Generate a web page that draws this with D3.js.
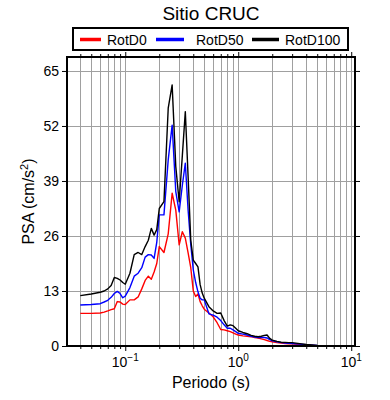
<!DOCTYPE html>
<html><head><meta charset="utf-8">
<script src="https://cdn.jsdelivr.net/npm/d3@7"></script>
<style>body{margin:0;background:#fff}svg{display:block;font-family:"Liberation Sans",Arial,Helvetica,sans-serif}</style>
</head><body><svg id="c" width="390" height="400"></svg>
<script>
const title = "Sitio CRUC";
const seriesNames = ["RotD0", "RotD50", "RotD100"];
const seriesColors = ["#ff0000", "#0000ff", "#000000"];
const yTicks = [0, 13, 26, 39, 52, 65];
const xMajor = [0.1, 1, 10];
const xMajorExp = ["\u22121", "0", "1"];
const periods = [0.04,0.05,0.06,0.065,0.07,0.075,0.08,0.085,0.09,0.095,0.1,0.11,0.12,0.13,0.14,0.15,0.16,0.17,0.18,0.19,0.2,0.22,0.24,0.26,0.28,0.3,0.32,0.34,0.36,0.38,0.4,0.42,0.44,0.46,0.48,0.5,0.55,0.6,0.65,0.7,0.75,0.8,0.85,0.9,0.95,1.0,1.1,1.2,1.3,1.4,1.5,1.6,1.7,1.8,1.9,2.0,2.2,2.4,2.6,2.8,3.0,3.5,4.0,5.0,6.0,7.5,10];
const rotD0 = [7.7,7.7,7.8,8.0,8.3,8.6,8.8,10.5,10.4,9.9,9.8,10.9,10.9,11.6,13.5,15.5,16.5,15.8,17.5,19.5,23.5,22.1,26.5,36.1,32.1,23.9,27,25.5,22,18.5,13,11.7,12.3,10.5,9.5,8.7,7.8,6.9,5.5,3.9,3.8,3.6,3.4,3.1,2.8,2.6,2.4,2.3,2.2,2.0,1.9,1.7,1.5,1.3,1.1,1.0,0.8,0.7,0.6,0.5,0.5,0.35,0.25,0.1,0.07,0.05,0.03];
const rotD50 = [9.7,9.8,10.0,10.4,10.8,11.5,12.4,12.9,12.4,11.4,11.8,13.8,16.5,17.2,18.5,21.0,21.6,21.5,20.7,24.5,31,31,44,52.2,36.5,31.7,38,43.2,32.1,24,18,15,12.8,11.3,10.9,10.9,7.6,7.3,6.8,6.0,5.0,4.2,4.2,3.8,3.4,3.0,2.8,2.6,2.3,2.1,2.0,2.0,2.0,1.9,1.5,1.2,1.0,0.8,0.7,0.65,0.6,0.45,0.3,0.12,0.08,0.05,0.04];
const rotD100 = [11.9,12.3,12.7,13.0,13.5,14.3,16.2,16.0,15.6,15.0,14.6,17.2,21.6,22.1,21.6,23.5,25.0,27.8,26.2,27.5,32.5,34.1,56.2,61.7,42.4,34.1,45,55.4,40,25,20.3,19.5,18.7,14.5,12.5,11.3,9.3,8.3,7.7,7.8,6.0,4.7,5.0,4.8,4.2,3.6,3.2,2.9,2.5,2.3,2.2,2.3,2.5,2.6,1.8,1.4,1.1,0.9,0.85,0.8,0.8,0.55,0.35,0.15,0.1,0.07,0.05];
const allSeries = [rotD0, rotD50, rotD100];

const svg = d3.select("#c");
const L = 67, R = 355, T = 57, B = 346;
const x = d3.scaleLog().domain([0.0305, 10.8]).range([L, R]);
const y = d3.scaleLinear().domain([0, 68.3]).range([B, T]);

// log grid ticks
const minorTicks = [];
for (let e = -2; e <= 1; e++) for (let m = 1; m <= 9; m++) {
  const v = m * Math.pow(10, e);
  if (v >= x.domain()[0] && v <= x.domain()[1]) minorTicks.push(v);
}

const grid = svg.append("g").attr("stroke", "#a0a0a0").attr("stroke-width", 1);
grid.selectAll(".vx").data(minorTicks).join("line")
  .attr("x1", d => Math.round(x(d)) + 0.5).attr("x2", d => Math.round(x(d)) + 0.5)
  .attr("y1", T).attr("y2", B);
grid.selectAll(".hy").data(yTicks.filter(d => d > 0)).join("line")
  .attr("x1", L).attr("x2", R)
  .attr("y1", d => Math.round(y(d)) + 0.5).attr("y2", d => Math.round(y(d)) + 0.5);

// curves
const line = d3.line().x((d, i) => x(periods[i])).y(d => y(d));
const clip = svg.append("clipPath").attr("id", "clp").append("rect")
  .attr("x", L).attr("y", T).attr("width", R - L).attr("height", B - T);
svg.append("g").attr("clip-path", "url(#clp)").selectAll("path").data(allSeries).join("path")
  .attr("d", d => line(d)).attr("fill", "none")
  .attr("stroke", (d, i) => seriesColors[i]).attr("stroke-width", 1.4)
  .attr("stroke-linejoin", "round");

// axes (ticks only, frame drawn after)
const fmtNone = () => "";
const isMajor = v => xMajor.some(m => Math.abs(m - v) < 1e-9);
svg.append("g").attr("transform", `translate(0,${B})`)
  .call(d3.axisBottom(x).tickValues(minorTicks).tickFormat(fmtNone).tickSizeOuter(0)
  .tickSize(3)).call(g => { g.select(".domain").remove();
    g.selectAll(".tick line").attr("y2", d => isMajor(d) ? 5 : 3).attr("stroke-width", 1); });
svg.append("g").attr("transform", `translate(0,${T})`)
  .call(d3.axisTop(x).tickValues(minorTicks).tickFormat(fmtNone).tickSizeOuter(0)
  .tickSize(3)).call(g => { g.select(".domain").remove();
    g.selectAll(".tick line").attr("y2", d => isMajor(d) ? -5 : -3); });
svg.append("g").attr("transform", `translate(${L},0)`)
  .call(d3.axisLeft(y).tickValues(yTicks).tickSize(5).tickSizeOuter(0).tickPadding(3))
  .call(g => { g.select(".domain").remove();
    g.selectAll("text").attr("font-size", 14).attr("fill", "#000").attr("font-family", "Liberation Sans, Arial, sans-serif"); });
svg.append("g").attr("transform", `translate(${R},0)`)
  .call(d3.axisRight(y).tickValues(yTicks).tickFormat(fmtNone).tickSize(5).tickSizeOuter(0))
  .call(g => g.select(".domain").remove());

// x major labels 10^n
const xl = svg.append("g");
xMajor.forEach((v, i) => {
  const t = xl.append("text").attr("x", x(v)).attr("y", 367).attr("text-anchor", "middle")
    .attr("font-size", 14).attr("fill", "#000");
  t.append("tspan").text("10");
  t.append("tspan").attr("dy", -6).attr("font-size", 10).text(xMajorExp[i]);
});

// frame
svg.append("rect").attr("x", L).attr("y", T).attr("width", R - L).attr("height", B - T)
  .attr("fill", "none").attr("stroke", "#000").attr("stroke-width", 2);

// axis labels
svg.append("text").attr("x", 211).attr("y", 388).attr("text-anchor", "middle")
  .attr("font-size", 16).text("Periodo (s)");
const yl = svg.append("text").attr("transform", `translate(34,${(T + B) / 2}) rotate(-90)`)
  .attr("text-anchor", "middle").attr("font-size", 16);
yl.append("tspan").text("PSA (cm/s");
yl.append("tspan").attr("dy", -6).attr("font-size", 11).text("2");
yl.append("tspan").attr("dy", 6).text(")");

// title
svg.append("text").attr("x", 211).attr("y", 20).attr("text-anchor", "middle")
  .attr("font-size", 19).text(title);

// legend
const lg = svg.append("g");
lg.append("rect").attr("x", 73).attr("y", 28).attr("width", 275).attr("height", 22)
  .attr("fill", "#fff").attr("stroke", "#000").attr("stroke-width", 2);
const legX = [[80, 101, 107], [156, 184, 196], [252, 279, 285]];
seriesNames.forEach((n, i) => {
  lg.append("line").attr("x1", legX[i][0]).attr("x2", legX[i][1]).attr("y1", 39.5).attr("y2", 39.5)
    .attr("stroke", seriesColors[i]).attr("stroke-width", 3.5);
  lg.append("text").attr("x", legX[i][2]).attr("y", 44.5).attr("font-size", 14).text(n);
});
</script></body></html>
